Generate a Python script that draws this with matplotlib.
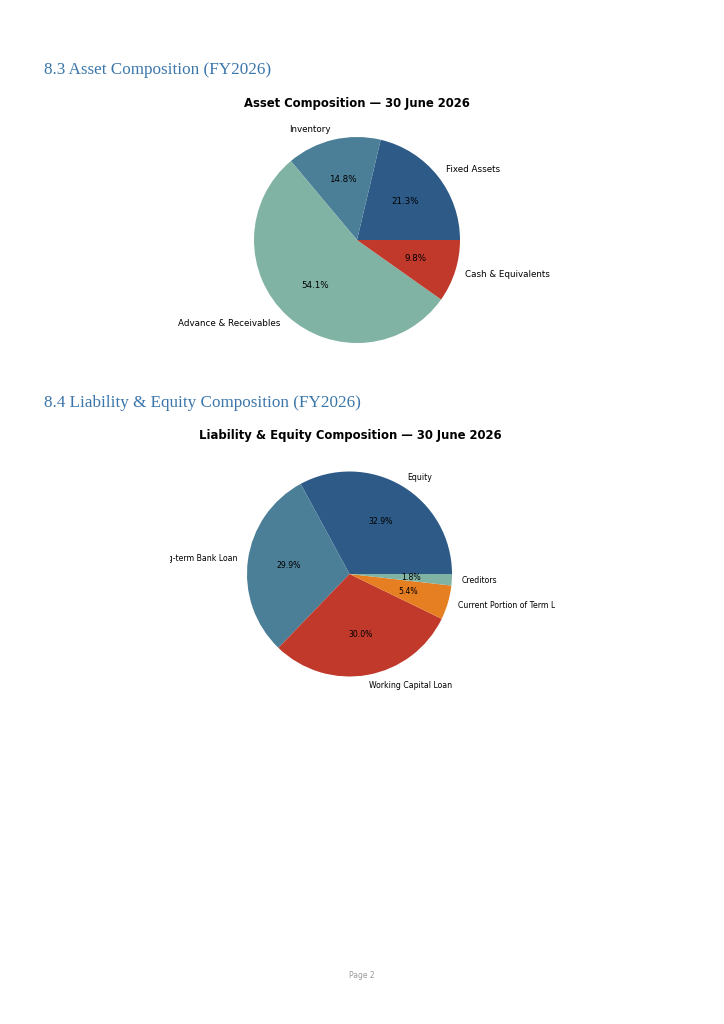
import matplotlib
matplotlib.use('Agg')
import matplotlib.pyplot as plt

plt.rcParams['font.family'] = ['DejaVu Sans']

# Asset composition data
asset_labels = ['Fixed Assets', 'Inventory', 'Advance & Receivables', 'Cash & Equivalents']
asset_values = [21.3, 14.8, 54.1, 9.8]
asset_colors = ['#2d5a87', '#4b7e97', '#80b3a3', '#c0392b']

# Liability & equity composition data
liab_labels = ['Equity', 'Long-term Bank Loan', 'Working Capital Loan',
               'Current Portion of Term Loan', 'Creditors']
liab_values = [32.9, 29.9, 30.0, 5.4, 1.8]
liab_colors = ['#2d5a87', '#4b7e97', '#c0392b', '#e67e22', '#80b3a3']

W, H = 724, 1024
fig = plt.figure(figsize=(W / 100, H / 100), dpi=100)
fig.patch.set_facecolor('white')

heading_color = '#3a76ab'


def pie_axes(cx, cy, r, left, right, top, bottom):
    # axes placed in page pixels, radius 1 of the pie = r pixels
    ax = fig.add_axes([left / W, 1 - bottom / H, (right - left) / W, (bottom - top) / H])
    return ax, ((left - cx) / r, (right - cx) / r), ((cy - bottom) / r, (cy - top) / r)


def draw_pie(ax, xl, yl, values, labels, colors, label_size, clip=False):
    wedges, texts, autotexts = ax.pie(values, labels=labels, colors=colors,
                                      autopct='%1.1f%%', startangle=0,
                                      textprops={'fontsize': label_size})
    ax.set_aspect('auto')
    ax.set_xlim(*xl)
    ax.set_ylim(*yl)
    ax.axis('off')
    if clip:
        for t in texts:
            t.set_clip_on(True)
            t.set_clip_box(ax.bbox)
    return wedges


# section headings
fig.text(44 / W, 1 - 70 / H, '8.3 Asset Composition (FY2026)', family='Liberation Serif',
         fontsize=12.3, color=heading_color, va='center', ha='left')
fig.text(44 / W, 1 - 403 / H, '8.4 Liability & Equity Composition (FY2026)', family='Liberation Serif',
         fontsize=12.3, color=heading_color, va='center', ha='left')

# chart 1
ax1, xl, yl = pie_axes(357, 240, 103, 150, 580, 115, 350)
draw_pie(ax1, xl, yl, asset_values, asset_labels, asset_colors, 6.3)
fig.text(357 / W, 1 - 103 / H, 'Asset Composition — 30 June 2026', fontsize=8.4,
         fontweight='bold', ha='center', va='center')

# chart 2 (cropped picture, labels cut at the edges)
ax2, xl, yl = pie_axes(349.5, 574, 102.5, 170, 555, 455, 700)
draw_pie(ax2, xl, yl, liab_values, liab_labels, liab_colors, 5.6, clip=True)
fig.text(350 / W, 1 - 436 / H, 'Liability & Equity Composition — 30 June 2026', fontsize=8.4,
         fontweight='bold', ha='center', va='center')

# footer
fig.text(362 / W, 1 - 975 / H, 'Page 2', fontsize=5.5, color='#9a9a9a', ha='center', va='center')

fig.savefig('out.png', dpi=100)
